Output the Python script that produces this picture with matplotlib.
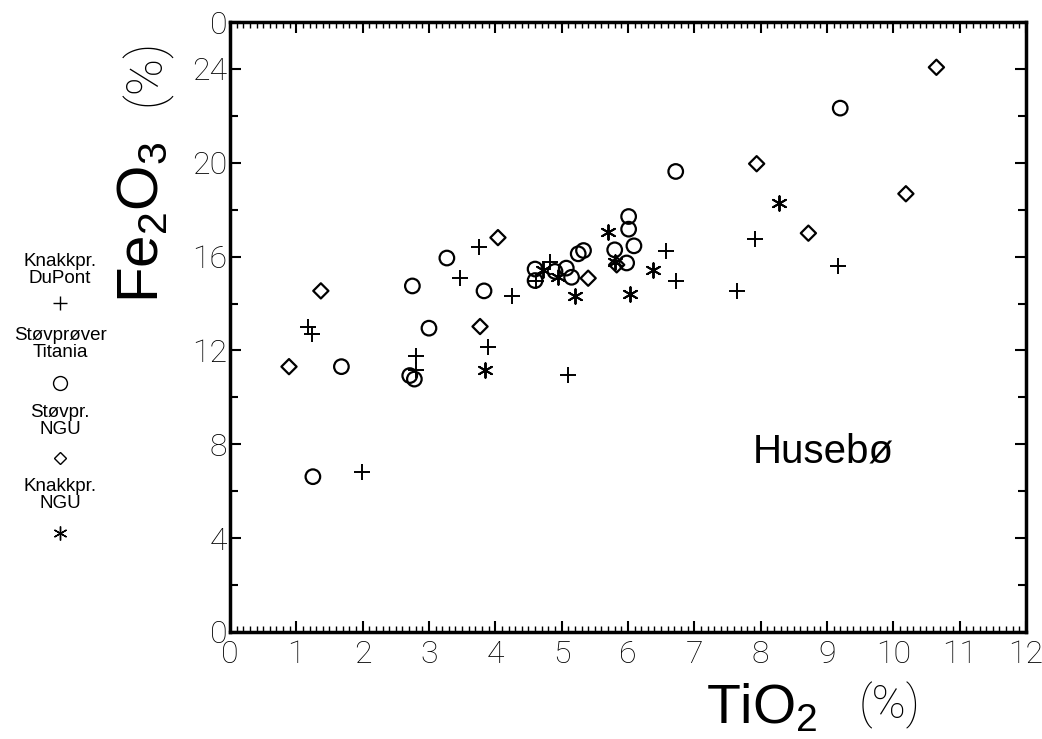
import numpy as np
import matplotlib
matplotlib.use("Agg")
import matplotlib.pyplot as plt
from matplotlib.ticker import MultipleLocator

plt.rcParams['font.family'] = ['Liberation Sans', 'DejaVu Sans']
plt.rcParams['mathtext.default'] = 'regular'

# Knakkpr. DuPont (+)
plus_x = [1.17, 1.23, 2.80, 2.81, 3.76, 3.47, 3.89, 4.25, 5.10, 1.99, 4.83, 4.62, 6.57, 6.72, 7.64, 7.91, 9.16]
plus_y = [12.98, 12.69, 11.77, 11.17, 16.40, 15.08, 12.13, 14.34, 10.94, 6.84, 15.79, 14.95, 16.25, 14.94, 14.54, 16.74, 15.58]

# Stovprover Titania (o)
circ_x = [1.68, 2.75, 3.00, 2.71, 2.78, 3.27, 3.83, 1.25, 4.60, 4.60, 4.90, 5.07, 5.15, 5.25, 5.33,
          5.80, 6.09, 5.98, 6.01, 6.01, 6.72, 9.20]
circ_y = [11.31, 14.75, 12.95, 10.93, 10.78, 15.94, 14.54, 6.62, 15.47, 14.98, 15.37, 15.51, 15.12, 16.12, 16.26,
          16.29, 16.46, 15.73, 17.71, 17.17, 19.63, 22.33]

# Stovpr. NGU (diamond)
diam_x = [0.89, 1.37, 3.77, 4.04, 5.40, 5.83, 7.94, 8.72, 10.19, 10.65]
diam_y = [11.31, 14.54, 13.02, 16.81, 15.08, 15.65, 19.96, 17.00, 18.68, 24.07]

# Knakkpr. NGU (*)
ast_x = [3.84, 4.72, 4.94, 5.20, 5.70, 5.80, 6.03, 6.38, 8.27]
ast_y = [11.17, 15.44, 15.15, 14.33, 17.03, 15.79, 14.42, 15.44, 18.28]

y_ticks = [0, 4, 8, 12, 16, 20, 24, 26]
y_labels = ['0', '4', '8', '12', '16', '20', '24', '0']
x_ticks = list(range(0, 13))

legend_items = [('Knakkpr.\nDuPont', '+'), ('Støvprøver\nTitania', 'o'),
                ('Støvpr.\nNGU', 'D'), ('Knakkpr.\nNGU', (6, 2, 0))]

thin = ['Roboto', 'Liberation Sans', 'DejaVu Sans']

fig = plt.figure(figsize=(10.42, 7.39), dpi=100)
ax = fig.add_axes([0.2207, 0.1448, 0.7639, 0.8254])

ax.scatter(plus_x, plus_y, marker='+', s=130, c='black', linewidths=1.4)
ax.scatter(circ_x, circ_y, marker='o', s=110, facecolors='none', edgecolors='black', linewidths=1.6)
ax.scatter(diam_x, diam_y, marker='D', s=60, facecolors='none', edgecolors='black', linewidths=1.6)
ax.scatter(ast_x, ast_y, marker=(6, 2, 0), s=110, c='black', linewidths=1.4)

ax.set_xlim(0, 12)
ax.set_ylim(0, 26)
ax.set_xticks(x_ticks)
ax.set_xticklabels([str(t) for t in x_ticks], fontsize=23, fontweight='light', family=thin)
ax.set_yticks(y_ticks)
ax.set_yticklabels(y_labels, fontsize=23, fontweight='light', family=thin)
ax.xaxis.set_minor_locator(MultipleLocator(0.1))
ax.yaxis.set_minor_locator(MultipleLocator(2))
ax.tick_params(which='major', direction='in', length=8, width=1.5, top=True, right=True, pad=2)
ax.tick_params(axis='x', which='major', pad=6)
ax.tick_params(which='minor', direction='in', length=4, width=1.0, top=True, right=True)
ax.tick_params(axis='y', which='minor', length=6, width=1.5)
for s in ax.spines.values():
    s.set_linewidth(2.5)

ax.text(8.94, 7.7, 'Husebø', fontsize=29, ha='center', va='center')

# axis titles
fig.text(0.731, 0.040, 'TiO$_2$', fontsize=40, ha='center', va='center')
fig.text(0.854, 0.045, '(%)', fontsize=33, ha='center', va='center', fontweight='light', family=thin)
fig.text(0.137, 0.700, 'Fe$_2$O$_3$', fontsize=42, ha='center', va='center', rotation=90)
fig.text(0.140, 0.902, '(%)', fontsize=36, ha='center', va='center', rotation=90, fontweight='light', family=thin)

# legend on the left side
text_y = [262, 336, 413, 487]
mark_y = [303, 383, 458, 533]
for (lab, mk), ty, my in zip(legend_items, text_y, mark_y):
    fig.text(60 / 1042, 1 - (ty + 8) / 739, lab, fontsize=13.5, ha='center', va='center', linespacing=1.05)
    fig.lines.append(plt.Line2D([60 / 1042], [1 - my / 739], marker=mk, color='black',
                                markerfacecolor='none', markersize=10 if mk != 'D' else 6,
                                markeredgewidth=1.0, transform=fig.transFigure))

fig.savefig('out.png', dpi=100)
